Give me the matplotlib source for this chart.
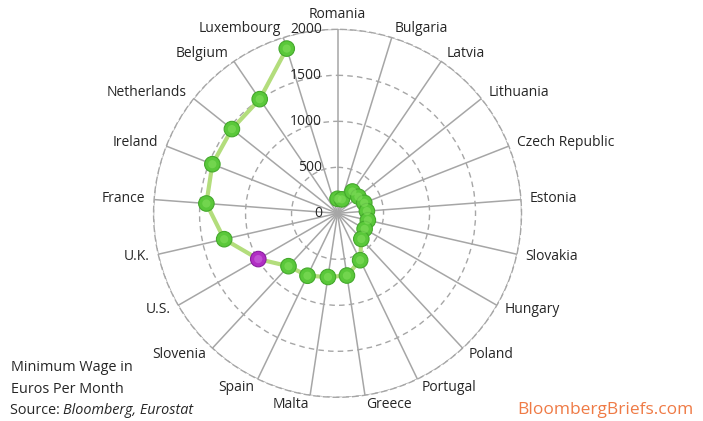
import numpy as np
import matplotlib.pyplot as plt

countries = ['Romania', 'Bulgaria', 'Latvia', 'Lithuania', 'Czech Republic', 'Estonia',
             'Slovakia', 'Hungary', 'Poland', 'Portugal', 'Greece', 'Malta', 'Spain',
             'Slovenia', 'U.S.', 'U.K.', 'France', 'Ireland', 'Netherlands', 'Belgium',
             'Luxembourg']
wages = [158, 159, 287, 290, 312, 320, 338, 340, 380, 566, 684, 700, 753, 784,
         995, 1264, 1430, 1462, 1469, 1502, 1874]
highlight = 'U.S.'
rings = [500, 1000, 1500, 2000]
ring_labels = ['500', '1000', '1500', '2000']

plt.rcParams['font.family'] = ['Open Sans', 'DejaVu Sans']
txt = '#262626'

fig = plt.figure(figsize=(7.03, 4.21), dpi=100)
ax = fig.add_axes([0.2184, 0.0563, 0.5235, 0.874], projection='polar')
ax.set_theta_zero_location('N')
ax.set_theta_direction(-1)

n = len(countries)
theta = np.arange(n) * 2 * np.pi / n

ax.set_ylim(0, 2000)
ax.set_xticks(theta)
ax.set_xticklabels([])
ax.set_yticks(rings)
ax.set_yticklabels([])
ax.xaxis.grid(True, color='#a6a6a6', linewidth=1.1, linestyle='-')
ax.yaxis.grid(True, color='#a6a6a6', linewidth=1.0, linestyle=(0, (4, 3)))
ax.spines['polar'].set_color('#a6a6a6')
ax.spines['polar'].set_linestyle((0, (4, 3)))
ax.spines['polar'].set_linewidth(1.0)
ax.tick_params(length=0)

# line and markers
ax.plot(theta, wages, color='#b3dd7c', linewidth=3, zorder=3)
colors = ['#b12ec4' if c == highlight else '#5ac83a' for c in countries]
edges = ['#8a1fa0' if c == highlight else '#44a82c' for c in countries]
ax.scatter(theta, wages, s=125, c=colors, edgecolors=edges, linewidths=0.8, zorder=4)
# lighter core to mimic the glossy bubbles
ax.scatter(theta, wages, s=35, c=['#d070e0' if c == highlight else '#86e060' for c in countries],
           linewidths=0, zorder=5, alpha=0.55)

# radial value labels
for v, lab in zip([0] + rings, ['0'] + ring_labels):
    ax.annotate(lab, xy=(0, v), xytext=(-11, 0), textcoords='offset points',
                ha='right', va='center', fontsize=10, color=txt)

# category labels
for t, c in zip(theta, countries):
    s = np.sin(t)
    if abs(s) < 0.01:
        ax.text(t, 2080, c, ha='center', va='bottom', fontsize=10, color=txt)
    else:
        ax.text(t, 2098, c, ha='left' if s > 0 else 'right', va='center',
                fontsize=10, color=txt)

fig.text(0.016, 0.126, 'Minimum Wage in', fontsize=10.4, color=txt, va='center')
fig.text(0.016, 0.076, 'Euros Per Month', fontsize=10.4, color=txt, va='center')
src = fig.text(0.014, 0.024, 'Source: ', fontsize=10.4, color=txt, va='center')
fig.canvas.draw()
bb = src.get_window_extent()
fig.text(bb.x1 / fig.bbox.width, 0.024, 'Bloomberg, Eurostat', fontsize=10.4, color=txt,
         va='center', style='italic')
fig.text(0.986, 0.026, 'BloombergBriefs.com', fontsize=12.5, color='#ef7a45', ha='right', va='center')

fig.savefig('out.png', dpi=100)
